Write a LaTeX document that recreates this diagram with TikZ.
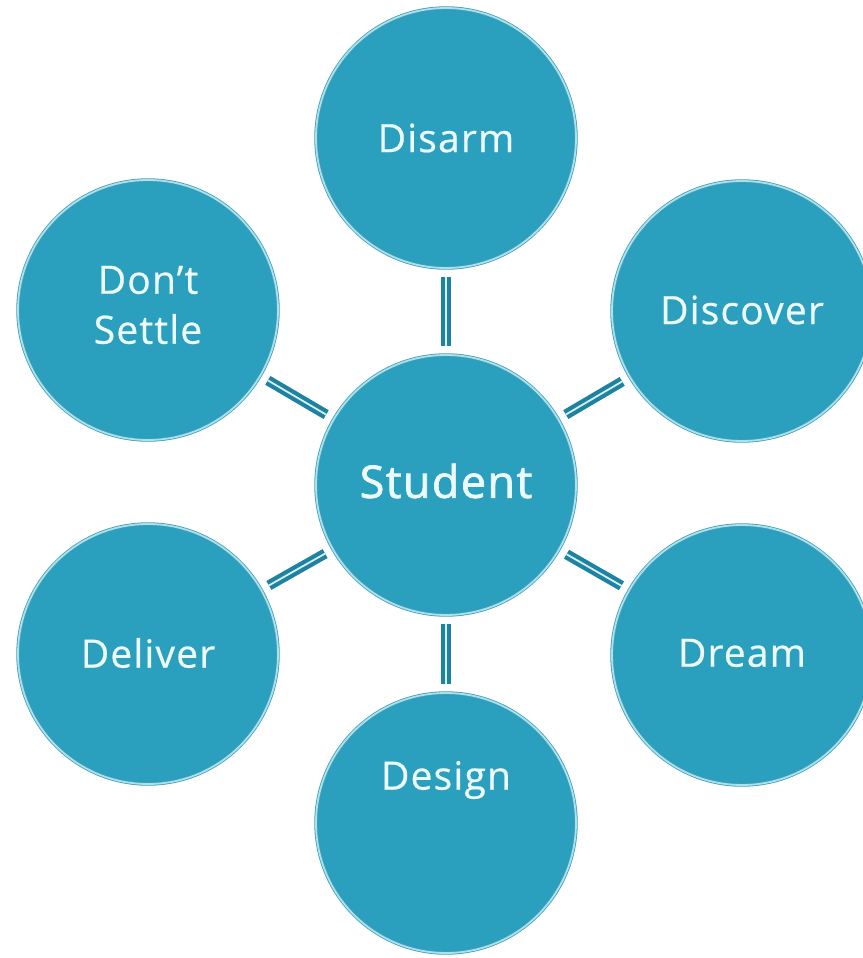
\documentclass[tikz,border=0pt]{standalone}
\usepackage{fontspec}
\setmainfont{Open Sans}
\newfontfamily\labelfont[LetterSpace=3,FakeBold=0.6]{Open Sans}
\newfontfamily\mainlabelfont[LetterSpace=3,FakeBold=1.6]{Open Sans}
\definecolor{fillteal}{HTML}{2A9FBE}
\definecolor{edgeteal}{HTML}{4A9CB2}
\definecolor{ringcyan}{HTML}{A6E3F1}
\definecolor{connteal}{HTML}{1F82A0}
\definecolor{connlight}{HTML}{D5F1F8}
\definecolor{textwhite}{HTML}{EDFAFC}
\begin{document}
\begin{tikzpicture}[x=1pt,y=-1pt,
  bubble/.style={circle, fill=fillteal, draw=edgeteal, line width=0.8pt,
    double=ringcyan, double distance=1.8pt, minimum size=260pt, inner sep=0pt,
    outer sep=0pt},
  conn/.style={draw=connteal, line width=4.2pt, double=connlight, double distance=1.8pt,
    shorten <=9pt, shorten >=9pt},
  lbl/.style={text=textwhite, font=\labelfont\fontsize{39}{50}\selectfont, align=center}
]
\useasboundingbox (0,0) rectangle (862,958);
\node[bubble] (student) at (446,485) {};
\node[bubble] (disarm) at (446,138) {};
\node[bubble] (discover) at (742,311) {};
\node[bubble] (dream) at (742,655) {};
\node[bubble] (design) at (446,823) {};
\node[bubble] (deliver) at (148,654) {};
\node[bubble] (settle) at (148,310) {};
\draw[conn] (disarm) -- (student);
\draw[conn] (student) -- (discover);
\draw[conn] (student) -- (dream);
\draw[conn] (student) -- (design);
\draw[conn] (student) -- (deliver);
\draw[conn] (student) -- (settle);
\node[text=textwhite, font=\mainlabelfont\fontsize{45}{52}\selectfont] (tstudent) at (446,481) {Student};
\node[lbl] (tdisarm) at (446,138) {Disarm};
\node[lbl] (tdiscover) at (742,310) {Discover};
\node[lbl] (tdream) at (742,653) {Dream};
\node[lbl] (tdesign) at (446,780) {Design};
\node[lbl] (tdeliver) at (148,653) {Deliver};
\node[lbl, font=\labelfont\fontsize{39}{50}\selectfont] (tsettle) at (148,305) {Don’t\\Settle};
\end{tikzpicture}
\end{document}
